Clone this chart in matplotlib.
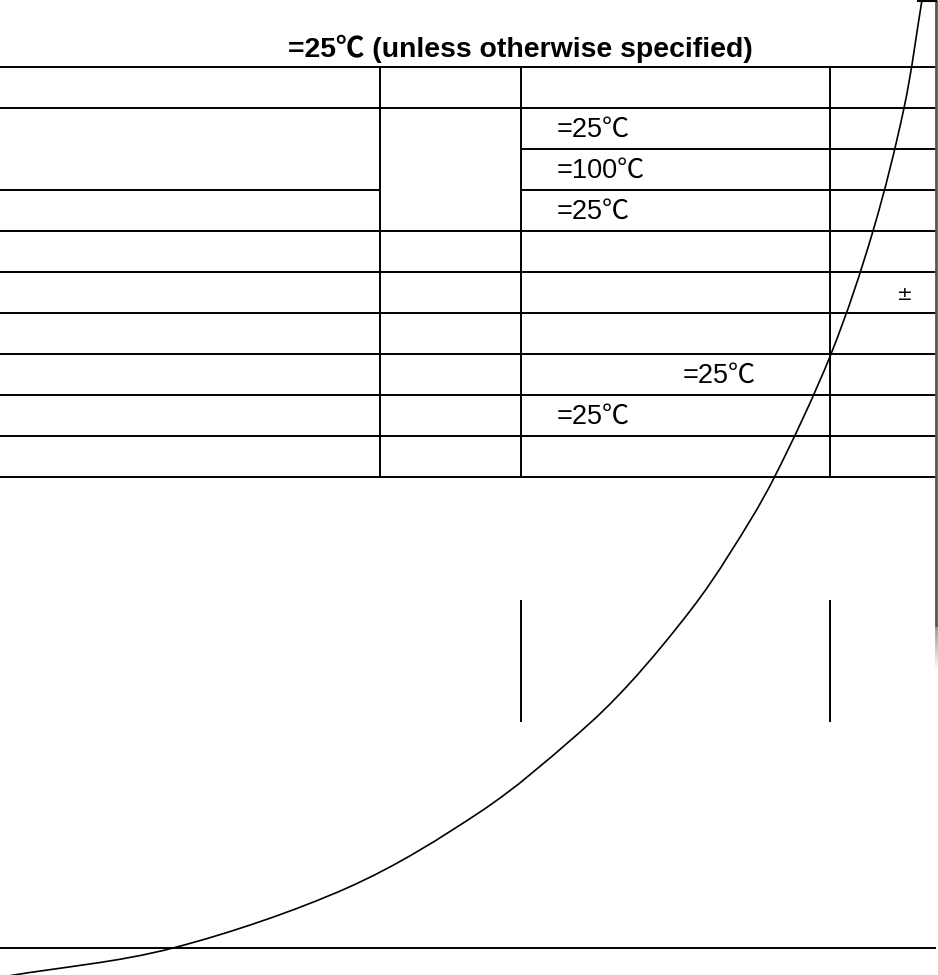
import matplotlib
matplotlib.use("Agg")
import matplotlib.pyplot as plt
from matplotlib.collections import LineCollection
from matplotlib.path import Path
from matplotlib.patches import PathPatch
import numpy as np

W, H = 938, 975

# ---- data (pixel space of the original sheet) ----
title_text = "=25\u2103 (unless otherwise specified)"

# full-width horizontal rules of the table
full_rows = [67, 108, 231, 272, 313, 354, 395, 436, 477, 948]
# partial rules: (y, x_start, x_end)
partial_rows = [(149, 521, 936), (190, 0, 380), (190, 521, 936)]
# vertical rules: (x, y_start, y_end)
col_rules = [(380, 67, 477), (521, 67, 477), (830, 67, 477),
             (521, 600, 722), (830, 600, 722)]

cell_texts = ["=25\u2103", "=100\u2103", "=25\u2103", "=25\u2103", "=25\u2103"]
cell_x = [557, 557, 557, 683, 557]
cell_base = [137, 178, 219, 383, 424]

pm_text = "\u00b1"
pm_x, pm_y = 905, 295

curve_x = [8, 173, 347, 480, 572, 630, 690, 730, 775, 831, 873, 904, 922]
curve_y = [976, 948, 888, 812, 739, 683, 611, 553, 476, 354, 231, 108, 0]

fig = plt.figure(figsize=(W / 100, H / 100), dpi=100)
ax = fig.add_axes([0, 0, 1, 1])
ax.set_xlim(0, W)
ax.set_ylim(H, 0)
ax.axis("off")

lw = 1.4
for y in full_rows:
    ax.plot([0, 936], [y, y], color="black", lw=lw, solid_capstyle="butt")
for y, x0, x1 in partial_rows:
    ax.plot([x0, x1], [y, y], color="black", lw=lw, solid_capstyle="butt")
for x, y0, y1 in col_rules:
    ax.plot([x, x], [y0, y1], color="black", lw=lw, solid_capstyle="butt")

# right edge rule fading out
ax.plot([936, 936], [0, 627], color="#555555", lw=2.0, solid_capstyle="butt")
ys = np.linspace(627, 670, 30)
segs = [[(936, ys[i]), (936, ys[i + 1])] for i in range(len(ys) - 1)]
alphas = np.linspace(0.67, 0.0, len(segs))
cols = [(0.33, 0.33, 0.33, a) for a in alphas]
ax.add_collection(LineCollection(segs, colors=cols, linewidths=2.0))
ax.plot([918, 936], [1, 1], color="black", lw=1.5)

# smooth curve through the read points (Catmull-Rom -> cubic Bezier)
P = np.column_stack([curve_x, curve_y]).astype(float)
Pext = np.vstack([P[0] - (P[1] - P[0]), P, P[-1] + (P[-1] - P[-2])])
verts = [tuple(P[0])]
codes = [Path.MOVETO]
for i in range(1, len(Pext) - 2):
    p0, p1, p2, p3 = Pext[i - 1], Pext[i], Pext[i + 1], Pext[i + 2]
    c1 = p1 + (p2 - p0) / 6.0
    c2 = p2 - (p3 - p1) / 6.0
    verts += [tuple(c1), tuple(c2), tuple(p2)]
    codes += [Path.CURVE4] * 3
ax.add_patch(PathPatch(Path(verts, codes), fill=False, edgecolor="black", lw=1.2))

fam = ["Liberation Sans", "Noto Sans CJK SC", "DejaVu Sans"]
ax.text(520, 57, title_text, ha="center", va="baseline", fontsize=20.4,
        fontweight="bold", family=fam)
for t, x, y in zip(cell_texts, cell_x, cell_base):
    ax.text(x, y, t, ha="left", va="baseline", fontsize=19.5, family=fam)
ax.text(pm_x, pm_y, pm_text, ha="center", va="center", fontsize=13.5,
        family=["DejaVu Sans"])

fig.savefig("out.png", dpi=100)
